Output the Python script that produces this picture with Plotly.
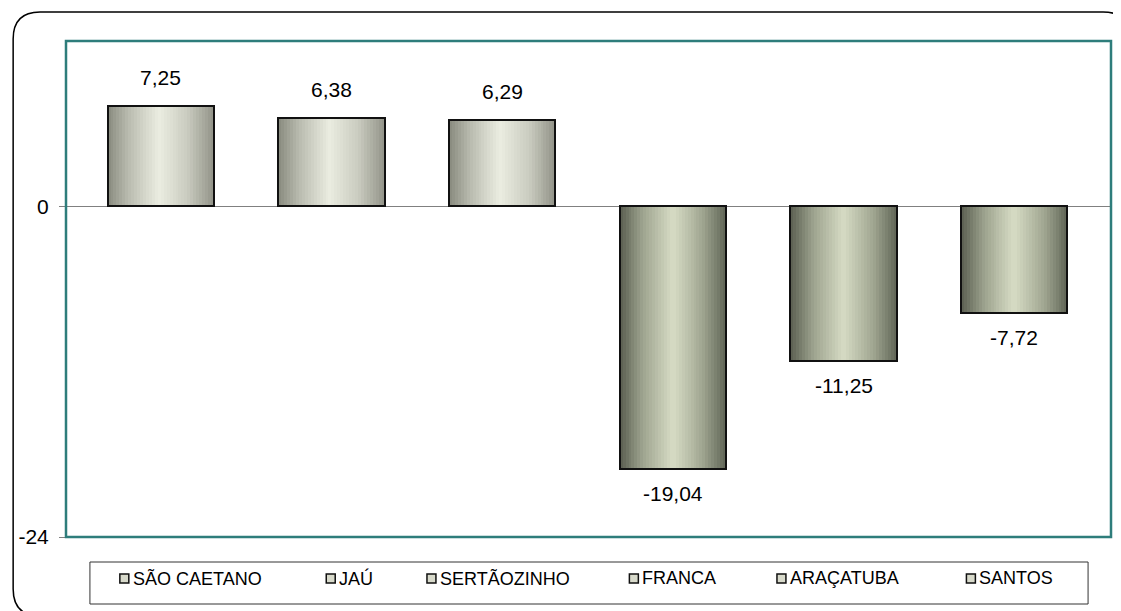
import plotly.graph_objects as go

# ---- data ----
categories = ["SÃO CAETANO", "JAÚ", "SERTÃOZINHO", "FRANCA", "ARAÇATUBA", "SANTOS"]
values = [7.25, 6.38, 6.29, -19.04, -11.25, -7.72]
y_tick_values = [0, -24]
y_tick_labels = ["0", "-24"]

# ---- layout constants (window pixels; page body has an 8px margin) ----
OFF = 8
W, H = 1121 - OFF, 611 - OFF
PL, PR, PT, PB = 63 - OFF, 1111 - OFF, 41 - OFF, 537 - OFF   # plot area edges in figure px
FONT = "Liberation Sans, Arial, sans-serif"

def px_x(p):
    """window x pixel -> paper fraction"""
    return (p - OFF - PL) / (PR - PL)

def px_y(p):
    """window y pixel -> paper fraction"""
    return (PB - (p - OFF)) / (PB - PT)

xs = list(range(len(categories)))
bar_w = 0.623
N = 36

pos_stops = [(0.0, (136, 137, 126)), (0.2, (186, 188, 176)), (0.48, (235, 237, 225)),
             (0.75, (202, 204, 192)), (1.0, (146, 147, 136))]
neg_stops = [(0.0, (90, 94, 80)), (0.22, (158, 164, 143)), (0.5, (215, 220, 197)),
             (0.78, (160, 166, 145)), (1.0, (96, 101, 86))]

def grad(stops, t):
    for (t0, c0), (t1, c1) in zip(stops[:-1], stops[1:]):
        if t0 <= t <= t1:
            f = (t - t0) / (t1 - t0) if t1 > t0 else 0
            c = [round(a + (b - a) * f) for a, b in zip(c0, c1)]
            return "rgb(%d,%d,%d)" % tuple(c)
    return "rgb(%d,%d,%d)" % stops[-1][1]

fig = go.Figure()
sw = bar_w / N
for k in range(N):
    t = (k + 0.5) / N
    colors = [grad(pos_stops if v >= 0 else neg_stops, t) for v in values]
    fig.add_trace(go.Bar(
        x=xs, y=values,
        offset=-bar_w / 2 + k * sw,
        width=sw * 1.35 if k < N - 1 else sw,
        marker=dict(color=colors, line=dict(width=0)),
        showlegend=False, hoverinfo="skip",
    ))
# outline
fig.add_trace(go.Bar(
    x=xs, y=values, width=bar_w,
    marker=dict(color="rgba(0,0,0,0)", line=dict(color="#111111", width=2)),
    showlegend=False, hoverinfo="skip",
))

annotations = []
for x, v in zip(xs, values):
    txt = f"{v:.2f}".replace(".", ",")
    annotations.append(dict(
        x=x, y=v, xref="x", yref="y", text=txt, showarrow=False,
        yanchor="bottom" if v >= 0 else "top",
        yshift=15 if v >= 0 else -11,
        font=dict(family=FONT, size=21, color="#000000"),
    ))

shapes = []
# outer rounded frame
L, T, R, B, r = 10, 12, 1130, 616, 27
path = (f"M {px_x(L+r)},{px_y(T)} L {px_x(R-r)},{px_y(T)} "
        f"Q {px_x(R)},{px_y(T)} {px_x(R)},{px_y(T+r)} "
        f"L {px_x(R)},{px_y(B-r)} Q {px_x(R)},{px_y(B)} {px_x(R-r)},{px_y(B)} "
        f"L {px_x(L+r)},{px_y(B)} Q {px_x(L)},{px_y(B)} {px_x(L)},{px_y(B-r)} "
        f"L {px_x(L)},{px_y(T+r)} Q {px_x(L)},{px_y(T)} {px_x(L+r)},{px_y(T)} Z")
shapes.append(dict(type="path", xref="paper", yref="paper", path=path,
                   line=dict(color="#000000", width=1.5), layer="below"))
# plot area border (teal)
shapes.append(dict(type="rect", xref="paper", yref="paper", x0=0, x1=1, y0=0, y1=1,
                   line=dict(color="#2e7d7b", width=2.5), layer="above"))
# legend box
shapes.append(dict(type="rect", xref="paper", yref="paper",
                   x0=px_x(87), x1=px_x(1088), y0=px_y(604), y1=px_y(562),
                   line=dict(color="#333333", width=1), layer="above"))

legend_left = [117, 324, 425, 628, 776, 966]
legend_y = 578
for name, lx, v in zip(categories, legend_left, values):
    shapes.append(dict(type="rect", xref="paper", yref="paper",
                       x0=px_x(lx), x1=px_x(lx + 9), y0=px_y(legend_y + 5), y1=px_y(legend_y - 4),
                       fillcolor="#d8dacb", line=dict(color="#111111", width=1.5), layer="above"))
    annotations.append(dict(
        x=px_x(lx + 11), y=px_y(legend_y), xref="paper", yref="paper", text=name,
        showarrow=False, xanchor="left", yanchor="middle",
        font=dict(family=FONT, size=18, color="#000000"),
    ))

fig.update_layout(
    width=W, height=H,
    margin=dict(l=PL, r=W - PR, t=PT, b=H - PB, pad=0),
    paper_bgcolor="white", plot_bgcolor="white",
    barmode="overlay", bargap=0,
    showlegend=False,
    xaxis=dict(range=[-0.555, 5.567], showticklabels=False, showgrid=False,
               zeroline=False, ticks="", showline=False, fixedrange=True),
    yaxis=dict(range=[-24, 12], tickvals=y_tick_values, ticktext=y_tick_labels,
               showgrid=False, zeroline=True, zerolinecolor="#808080", zerolinewidth=1,
               ticks="outside", ticklen=6, tickcolor="#808080", tickwidth=1,
               showline=False, ticklabelstandoff=6,
               tickfont=dict(family=FONT, size=21, color="#000000")),
    annotations=annotations, shapes=shapes,
)

fig.write_html("out.html")
